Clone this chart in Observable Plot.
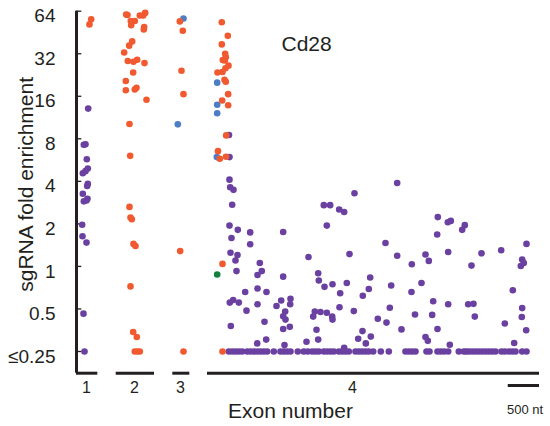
<!DOCTYPE html>
<html><head><meta charset="utf-8">
<script src="https://cdn.jsdelivr.net/npm/d3@7"></script>
<script src="https://cdn.jsdelivr.net/npm/@observablehq/plot@0.6"></script>
<style>body{margin:0;background:#fff;} svg{display:block;}</style>
</head><body><div id="chart"></div>
<script>
// Exon layout (nt along the concatenated gene drawing)
const exonNames = ["1", "2", "3", "4"];
const exonStart = [0, 635, 1541, 2096];
const exonEnd = [341, 1248, 1813, 7408];
const exonLabelPos = [160, 928, 1664, 4416];
const scaleBar = [6908, 7408]; // 500 nt

// y: log2 sgRNA fold enrichment (-2 means <=0.25)
const yTicks = [-2, -1, 0, 1, 2, 3, 4, 5, 6];
const yTickLabels = ["≤0.25", "0.5", "1", "2", "4", "8", "16", "32", "64"];

// [position (nt), log2 fold enrichment]
const orangeGuides = [
  [235,5.81],[208,5.69],
  [795,5.92],[816,5.91],[869,5.77],[933,5.77],[875,5.67],[1013,5.90],[1067,5.90],[1099,5.96],[1083,5.63],[1077,5.57],
  [891,5.29],[843,5.19],[763,5.03],[821,4.83],[912,4.81],[971,4.86],[1088,4.78],[907,4.56],[789,4.36],[789,4.14],
  [933,4.16],[960,4.20],[1120,3.92],[848,3.35],[859,2.60],[848,1.40],[864,1.15],[885,1.11],[912,0.53],[944,0.48],
  [864,-0.47],[907,-1.54],[965,-1.66],[933,-2],[976,-2],[1013,-2],
  [1653,5.76],[1701,5.54],[1680,4.60],[1712,4.05],[1659,0.36],[1712,-2],
  [2325,5.74],[2421,5.42],[2325,5.22],[2379,5.00],[2389,4.92],[2341,4.85],[2373,4.84],[2432,4.72],[2384,4.66],
  [2336,4.57],[2256,4.56],[2368,4.39],[2389,4.34],[2427,4.05],[2331,3.90],[2427,3.79],[2395,3.08],[2264,2.71],
  [2293,2.53],[2392,2.58],[2336,0.06],[2336,-2]
];
const blueGuides = [[1712,5.83],[1621,3.34],[2251,4.32],[2251,3.80],[2251,3.60],[2245,2.57]];
const greenGuides = [[2251,-0.19]];
const purpleGuides = [
  [187,3.71],[144,2.87],[117,2.86],[165,2.52],[181,2.30],[144,2.24],[101,2.19],[181,1.94],[171,1.89],[101,1.71],
  [176,1.59],[117,1.53],[160,1.55],[91,0.98],[96,0.71],[160,0.56],[112,-1.11],[128,-2],
  [2440,3.09],[2448,2.57],[2448,2.04],[2459,1.86],[2512,1.80],[2491,1.45],[2448,0.96],[2581,0.86],[2779,0.80],[3307,0.81],
  [2480,0.67],[2779,0.52],[2464,0.32],[2576,0.27],[2544,0.14],[3712,0.22],[2560,-0.11],[2933,0.08],[2965,-0.11],[2896,-0.20],
  [3307,-0.24],[2699,-0.60],[2896,-0.52],[3040,-0.60],[2453,-0.85],[2507,-0.79],[2597,-0.85],[2896,-0.89],[2720,-1.04],
  [3200,-0.93],[3275,-0.80],[3424,-0.76],[3419,-0.89],[3339,-1.06],[3307,-1.17],[3344,-1.25],[2469,-1.40],[3008,-1.30],
  [3307,-1.47],[3413,-1.42],[2891,-1.81],[3035,-1.72],[3328,-1.85],[3680,-1.77],
  [5131,1.96],[4448,1.72],[3957,1.44],[4059,1.44],[4203,1.34],[4283,1.28],[4005,0.96],[4368,0.29],[4944,0.55],[5131,0.25],
  [5365,0.05],[3867,-0.16],[3877,-0.33],[3968,-0.48],[4096,-0.42],[4325,-0.39],[4699,-0.26],[4677,-0.53],[4581,-0.69],
  [5035,-0.45],[4219,-0.63],[5360,-0.60],[5520,-0.39],[3813,-1.06],[3787,-1.18],[3904,-1.07],[4005,-1.09],[4091,-1.18],
  [4096,-1.25],[4208,-0.96],[4437,-1.05],[5013,-0.97],[4821,-1.23],[4960,-1.32],[5416,-1.13],[3840,-1.49],[3867,-1.72],
  [4576,-1.52],[4507,-1.70],[4629,-1.81],[4709,-1.65],[5200,-1.48],[4283,-1.91],
  [5781,1.16],[5941,1.04],[5989,1.07],[6213,0.97],[6171,0.86],[5771,0.75],[7200,0.53],[5584,0.28],[5637,0.13],[5947,0.34],
  [6480,0.31],[6795,0.38],[6320,0.02],[7131,0.16],[7157,0.08],[7109,0.01],[6981,-0.56],[5707,-0.82],[5947,-0.89],
  [6267,-0.89],[6352,-0.88],[5691,-1.14],[6373,-1.18],[7131,-0.98],[7125,-1.19],[6853,-1.34],[5776,-1.47],[7195,-1.50],
  [5584,-1.66],[5621,-1.75],[5973,-1.84],[7003,-1.80]
];
// purple guides at the floor (<=0.25), positions in nt
const purpleFloorPos = [
  2437,2491,2544,2597,2651,2731,2784,2837,2891,2944,2997,3051,3157,3264,3317,3371,3424,3541,3637,3701,
  3771,3824,3877,3957,4011,4064,4117,4197,4251,4304,4357,4464,4517,4571,4624,4677,4747,4869,4997,5264,
  5317,5371,5424,5600,5648,5776,5829,5883,5947,6117,6197,6235,6277,6331,6384,6437,6491,6544,6597,6651,
  6704,6800,6853,6917,6971,7024,7131,7200
];

const colors = {purple: "#6A40A0", blue: "#4D7DC5", orange: "#F15A30", green: "#168040"};
const ink = "#231F20";
const yMin = -2.51;

const toRows = (arr, g) => arr.map(([x, y]) => ({x, y, g}));
const rows = [
  ...toRows(purpleGuides, "purple"),
  ...purpleFloorPos.map(x => ({x, y: -2, g: "purple"})),
  ...toRows(blueGuides, "blue"),
  ...toRows(orangeGuides, "orange"),
  ...toRows(greenGuides, "green")
];
const exons = exonNames.map((n, i) => ({n, s: exonStart[i], e: exonEnd[i], lp: exonLabelPos[i]}));
const font = "'Liberation Sans', Arial, Helvetica, sans-serif";

const chart = Plot.plot({
  width: 550, height: 426,
  marginLeft: 76, marginRight: 5.25, marginTop: 10.7, marginBottom: 53.3,
  style: {fontFamily: font, background: "#fff", color: ink, overflow: "visible"},
  x: {type: "linear", domain: [0, 7500], axis: null},
  y: {type: "linear", domain: [yMin, 6], axis: null},
  marks: [
    Plot.ruleX([0], {y1: yMin, y2: 6, stroke: ink, strokeWidth: 3}),
    Plot.ruleY(yTicks, {y: d => d, x1: 0, x2: 85, stroke: ink, strokeWidth: 1.3}),
    Plot.axisY({ticks: yTicks, tickSize: 0, tickPadding: 21, tickFormat: (d) => yTickLabels[yTicks.indexOf(d)],
      fontSize: 19, dy: 5, fill: ink, label: null}),
    Plot.ruleY(exons, {y: () => yMin, x1: "s", x2: "e", stroke: ink, strokeWidth: 3}),
    Plot.text(exons, {x: "lp", y: () => yMin, text: "n", dy: 20, lineAnchor: "bottom", fontSize: 16, fill: ink}),
    Plot.ruleY([scaleBar], {y: () => yMin, x1: d => d[0], x2: d => d[1], dy: 12.3, stroke: ink, strokeWidth: 3}),
    Plot.text(["500 nt"], {x: () => 7176, y: () => yMin, dy: 40.5, lineAnchor: "bottom", fontSize: 13, fill: ink}),
    Plot.text(["Exon number"], {x: () => 3424, y: () => yMin, dy: 44.6, lineAnchor: "bottom", fontSize: 21, fill: ink}),
    Plot.text(["sgRNA fold enrichment"], {x: () => -800, y: () => 1.93, rotate: -90, fontSize: 21, fill: ink}),
    Plot.text(["Cd28"], {x: () => 3280, y: () => 5.22, textAnchor: "start", fontSize: 21, fill: ink}),
    Plot.dot(rows, {x: "x", y: "y", r: 3.3, fill: d => colors[d.g], stroke: null})
  ]
});
document.getElementById("chart").append(chart);
</script>
</body></html>
